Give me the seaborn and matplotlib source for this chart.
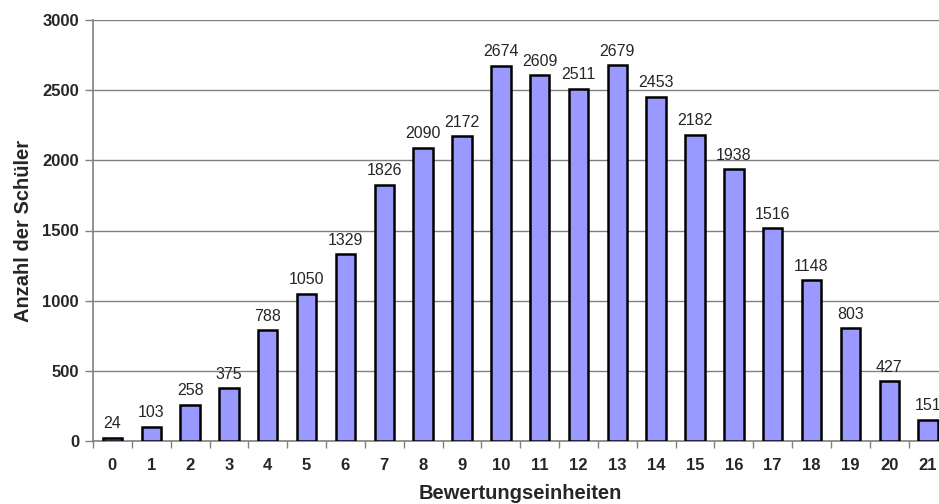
import numpy as np
import pandas as pd
import matplotlib
matplotlib.use("Agg")
import matplotlib.pyplot as plt
import seaborn as sns

punkte = [str(i) for i in range(22)]
anzahl = [24, 103, 258, 375, 788, 1050, 1329, 1826, 2090, 2172, 2674,
          2609, 2511, 2679, 2453, 2182, 1938, 1516, 1148, 803, 427, 151]

df = pd.DataFrame({"Bewertungseinheiten": punkte, "Anzahl": anzahl})

sns.set_style("white")
plt.rcParams['font.family'] = ['Liberation Sans', 'DejaVu Sans']

fig = plt.figure(figsize=(9.39, 5.04), dpi=100)
ax = fig.add_axes([93/939, 1 - 441/504, (947.5 - 93)/939, (441 - 20)/504])

sns.barplot(data=df, x="Bewertungseinheiten", y="Anzahl", color="#9999ff",
            saturation=1, width=0.5, edgecolor="black", linewidth=1.8, ax=ax,
            zorder=3)

for i, v in enumerate(anzahl):
    ax.text(i, v + 45, str(v), ha="center", va="bottom", fontsize=11.5)

ax.set_ylim(0, 3000)
ax.set_xlim(-0.5, 21.5)
ax.set_yticks(range(0, 3001, 500))
ax.yaxis.grid(True, color="#808080", linewidth=1, zorder=0)
ax.set_axisbelow(True)
for s in ["top", "right"]:
    ax.spines[s].set_visible(False)
for s in ["left", "bottom"]:
    ax.spines[s].set_color("#808080")
    ax.spines[s].set_linewidth(1.2)

ax.tick_params(axis="y", which="major", length=6, width=1, color="#808080",
               direction="out", left=True, labelsize=12, pad=4)
ax.tick_params(axis="x", which="major", length=0, labelsize=12, pad=12)
ax.set_xticks(np.arange(-0.5, 21.5, 1), minor=True)
ax.tick_params(axis="x", which="minor", length=5, width=1, color="#808080",
               direction="out", bottom=True)
for lbl in ax.get_xticklabels() + ax.get_yticklabels():
    lbl.set_fontweight("bold")

ax.set_xlabel("Bewertungseinheiten", fontsize=14.5, fontweight="bold", labelpad=8)
ax.set_ylabel("Anzahl der Schüler", fontsize=14.5, fontweight="bold", labelpad=7)

fig.savefig("out.png", dpi=100)
